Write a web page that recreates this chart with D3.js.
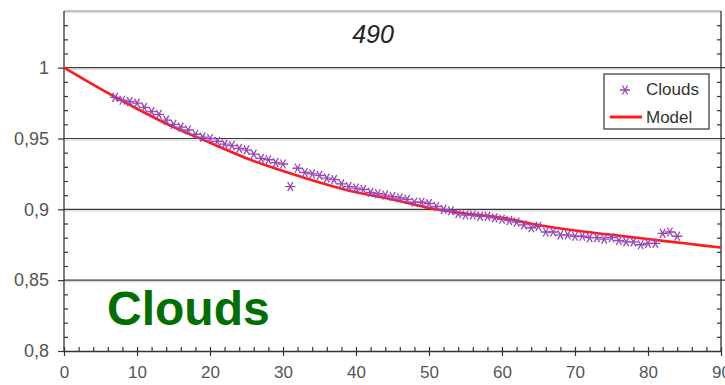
<!DOCTYPE html>
<html>
<head>
<meta charset="utf-8">
<script src="https://cdn.jsdelivr.net/npm/d3@7"></script>
<style>
  html, body { margin: 0; padding: 0; background: #fff; }
  svg { display: block; font-family: "Liberation Sans", Arial, sans-serif; }
</style>
</head>
<body>
<svg id="chart" width="725" height="385"></svg>
<script>
// ---- data ----
const title = "490";
const bigLabel = "Clouds";
const seriesNames = ["Clouds", "Model"];

const cloudX = [7,8,9,10,11,12,13,14,15,16,17,18,19,20,21,22,23,24,25,26,27,28,29,30,31,32,33,34,35,36,37,38,39,40,41,42,43,44,45,46,47,48,49,50,51,52,53,54,55,56,57,58,59,60,61,62,63,64,65,66,67,68,69,70,71,72,73,74,75,76,77,78,79,80,81,82,83,84];
const cloudY = [0.979,0.977,0.976,0.975,0.972,0.969,0.967,0.963,0.960,0.958,0.956,0.953,0.951,0.950,0.948,0.946,0.945,0.943,0.942,0.939,0.936,0.935,0.933,0.932,0.916,0.929,0.926,0.925,0.924,0.922,0.921,0.918,0.916,0.915,0.914,0.912,0.911,0.910,0.909,0.908,0.907,0.905,0.905,0.904,0.902,0.900,0.899,0.897,0.896,0.896,0.895,0.895,0.894,0.893,0.892,0.891,0.889,0.887,0.888,0.884,0.884,0.882,0.882,0.881,0.881,0.880,0.880,0.879,0.880,0.878,0.877,0.877,0.875,0.876,0.876,0.883,0.884,0.881];

const modelX = [0,5,10,15,20,25,30,35,40,45,50,55,60,65,70,75,80,85,90];
const modelY = [1.000,0.985,0.971,0.958,0.947,0.936,0.927,0.919,0.912,0.907,0.901,0.897,0.894,0.889,0.885,0.882,0.879,0.876,0.873];

const xMajorTicks = [0,10,20,30,40,50,60,70,80,90];
const xMinorTicks = [2,4,6,8,12,14,16,18,22,24,26,28,32,34,36,38,42,44,46,48,52,54,56,58,62,64,66,68,72,74,76,78,82,84,86,88];
const yMajorTicks = [0.8,0.85,0.9,0.95,1];
const yMinorTicks = [0.81,0.82,0.83,0.84,0.86,0.87,0.88,0.89,0.91,0.92,0.93,0.94,0.96,0.97,0.98,0.99,1.01,1.02,1.03];
const yTickLabels = ["0,8","0,85","0,9","0,95","1"];

// ---- layout ----
const L = 64, R = 721, T = 11, B = 351;
const svg = d3.select("#chart");
const x = d3.scaleLinear().domain([0, 90]).range([L, R]);
const y = d3.scaleLinear().domain([0.8, 1.04]).range([B, T]);

const axisColor = "#333";
const labelColor = "#555";

// top border
svg.append("line").attr("x1", L).attr("x2", R).attr("y1", T).attr("y2", T)
  .attr("stroke", "#888").attr("stroke-width", 1.2);
svg.append("line").attr("x1", L).attr("x2", R).attr("y1", T + 1.5).attr("y2", T + 1.5)
  .attr("stroke", "#ddd").attr("stroke-width", 1);

// gridlines
const grid = svg.append("g");
yMajorTicks.filter(v => v > 0.8).forEach(v => {
  grid.append("line").attr("x1", L).attr("x2", R + 4).attr("y1", y(v)).attr("y2", y(v))
    .attr("stroke", "#3a3a3a").attr("stroke-width", 1.2);
  grid.append("line").attr("x1", L).attr("x2", R).attr("y1", y(v) + 1.6).attr("y2", y(v) + 1.6)
    .attr("stroke", "#cfcfcf").attr("stroke-width", 1);
});

function styleAxis(g, fs) {
  g.selectAll("path.domain").attr("stroke", axisColor).attr("stroke-width", 1.3);
  g.selectAll(".tick line").attr("stroke", axisColor).attr("stroke-width", 1.2);
  g.selectAll(".tick text").attr("fill", labelColor).style("font-size", (fs || 18) + "px")
    .style("font-family", "'Liberation Sans', Arial, sans-serif");
}

// bottom axis: majors outward with labels
const xAxisOut = svg.append("g").attr("transform", `translate(0,${B})`)
  .call(d3.axisBottom(x).tickValues(xMajorTicks).tickSizeInner(5).tickSizeOuter(0).tickPadding(12).tickFormat(d3.format("d")));
styleAxis(xAxisOut, 17);
xAxisOut.selectAll(".tick text").attr("dy", "0.6em");
// inward ticks (majors & minors)
const xAxisIn = svg.append("g").attr("transform", `translate(0,${B})`)
  .call(d3.axisTop(x).tickValues(xMajorTicks.concat(xMinorTicks)).tickSizeInner(4).tickSizeOuter(0).tickFormat(""));
styleAxis(xAxisIn);
xAxisIn.selectAll("path.domain").remove();

// left axis: majors outward with labels
const yAxisL = svg.append("g").attr("transform", `translate(${L},0)`)
  .call(d3.axisLeft(y).tickValues(yMajorTicks).tickSizeInner(6).tickSizeOuter(0).tickPadding(9)
    .tickFormat((d, i) => yTickLabels[i]));
styleAxis(yAxisL);
yAxisL.selectAll("path.domain").attr("d", `M0,${T}V${B}`);
// left minor inward
const yAxisLIn = svg.append("g").attr("transform", `translate(${L},0)`)
  .call(d3.axisRight(y).tickValues(yMinorTicks).tickSizeInner(4).tickSizeOuter(0).tickFormat(""));
styleAxis(yAxisLIn);
yAxisLIn.selectAll("path.domain").remove();

// right axis: minor inward
const yAxisR = svg.append("g").attr("transform", `translate(${R},0)`)
  .call(d3.axisLeft(y).tickValues(yMinorTicks).tickSizeInner(4).tickSizeOuter(0).tickFormat(""));
styleAxis(yAxisR);
yAxisR.selectAll("path.domain").attr("d", `M0,${T}V${B}`);

// model line
const line = d3.line().x(d => x(d[0])).y(d => y(d[1])).curve(d3.curveMonotoneX);
svg.append("path").datum(modelX.map((v, i) => [v, modelY[i]]))
  .attr("d", line).attr("fill", "none").attr("stroke", "#ff1a1a").attr("stroke-width", 2.6);

// cloud markers
const markerColor = "#9a45b8";
const sym = d3.symbol().type(d3.symbolAsterisk).size(75);
svg.append("g").selectAll("path").data(cloudX.map((v, i) => [v, cloudY[i]])).join("path")
  .attr("transform", d => `translate(${x(d[0])},${y(d[1])}) rotate(90)`)
  .attr("d", sym).attr("fill", "none").attr("stroke", markerColor).attr("stroke-width", 1.3);

// title
svg.append("text").attr("x", 373).attr("y", 43).attr("text-anchor", "middle")
  .style("font-size", "25px").style("font-style", "italic").attr("fill", "#222").text(title);

// big label
svg.append("text").attr("x", 107).attr("y", 325)
  .style("font-size", "48px").style("font-weight", "bold").attr("fill", "#006e00").text(bigLabel);

// legend
const lg = svg.append("g");
lg.append("rect").attr("x", 604).attr("y", 74).attr("width", 105).attr("height", 55)
  .attr("fill", "#fff").attr("stroke", "#333").attr("stroke-width", 1.2);
lg.append("path").attr("transform", "translate(625,90) rotate(90)").attr("d", sym)
  .attr("fill", "none").attr("stroke", markerColor).attr("stroke-width", 1.3);
lg.append("text").attr("x", 646).attr("y", 95).style("font-size", "17px").attr("fill", "#333").text(seriesNames[0]);
lg.append("line").attr("x1", 610).attr("x2", 642).attr("y1", 117).attr("y2", 117)
  .attr("stroke", "#ff1a1a").attr("stroke-width", 3);
lg.append("text").attr("x", 646).attr("y", 123).style("font-size", "17px").attr("fill", "#333").text(seriesNames[1]);
</script>
</body>
</html>
